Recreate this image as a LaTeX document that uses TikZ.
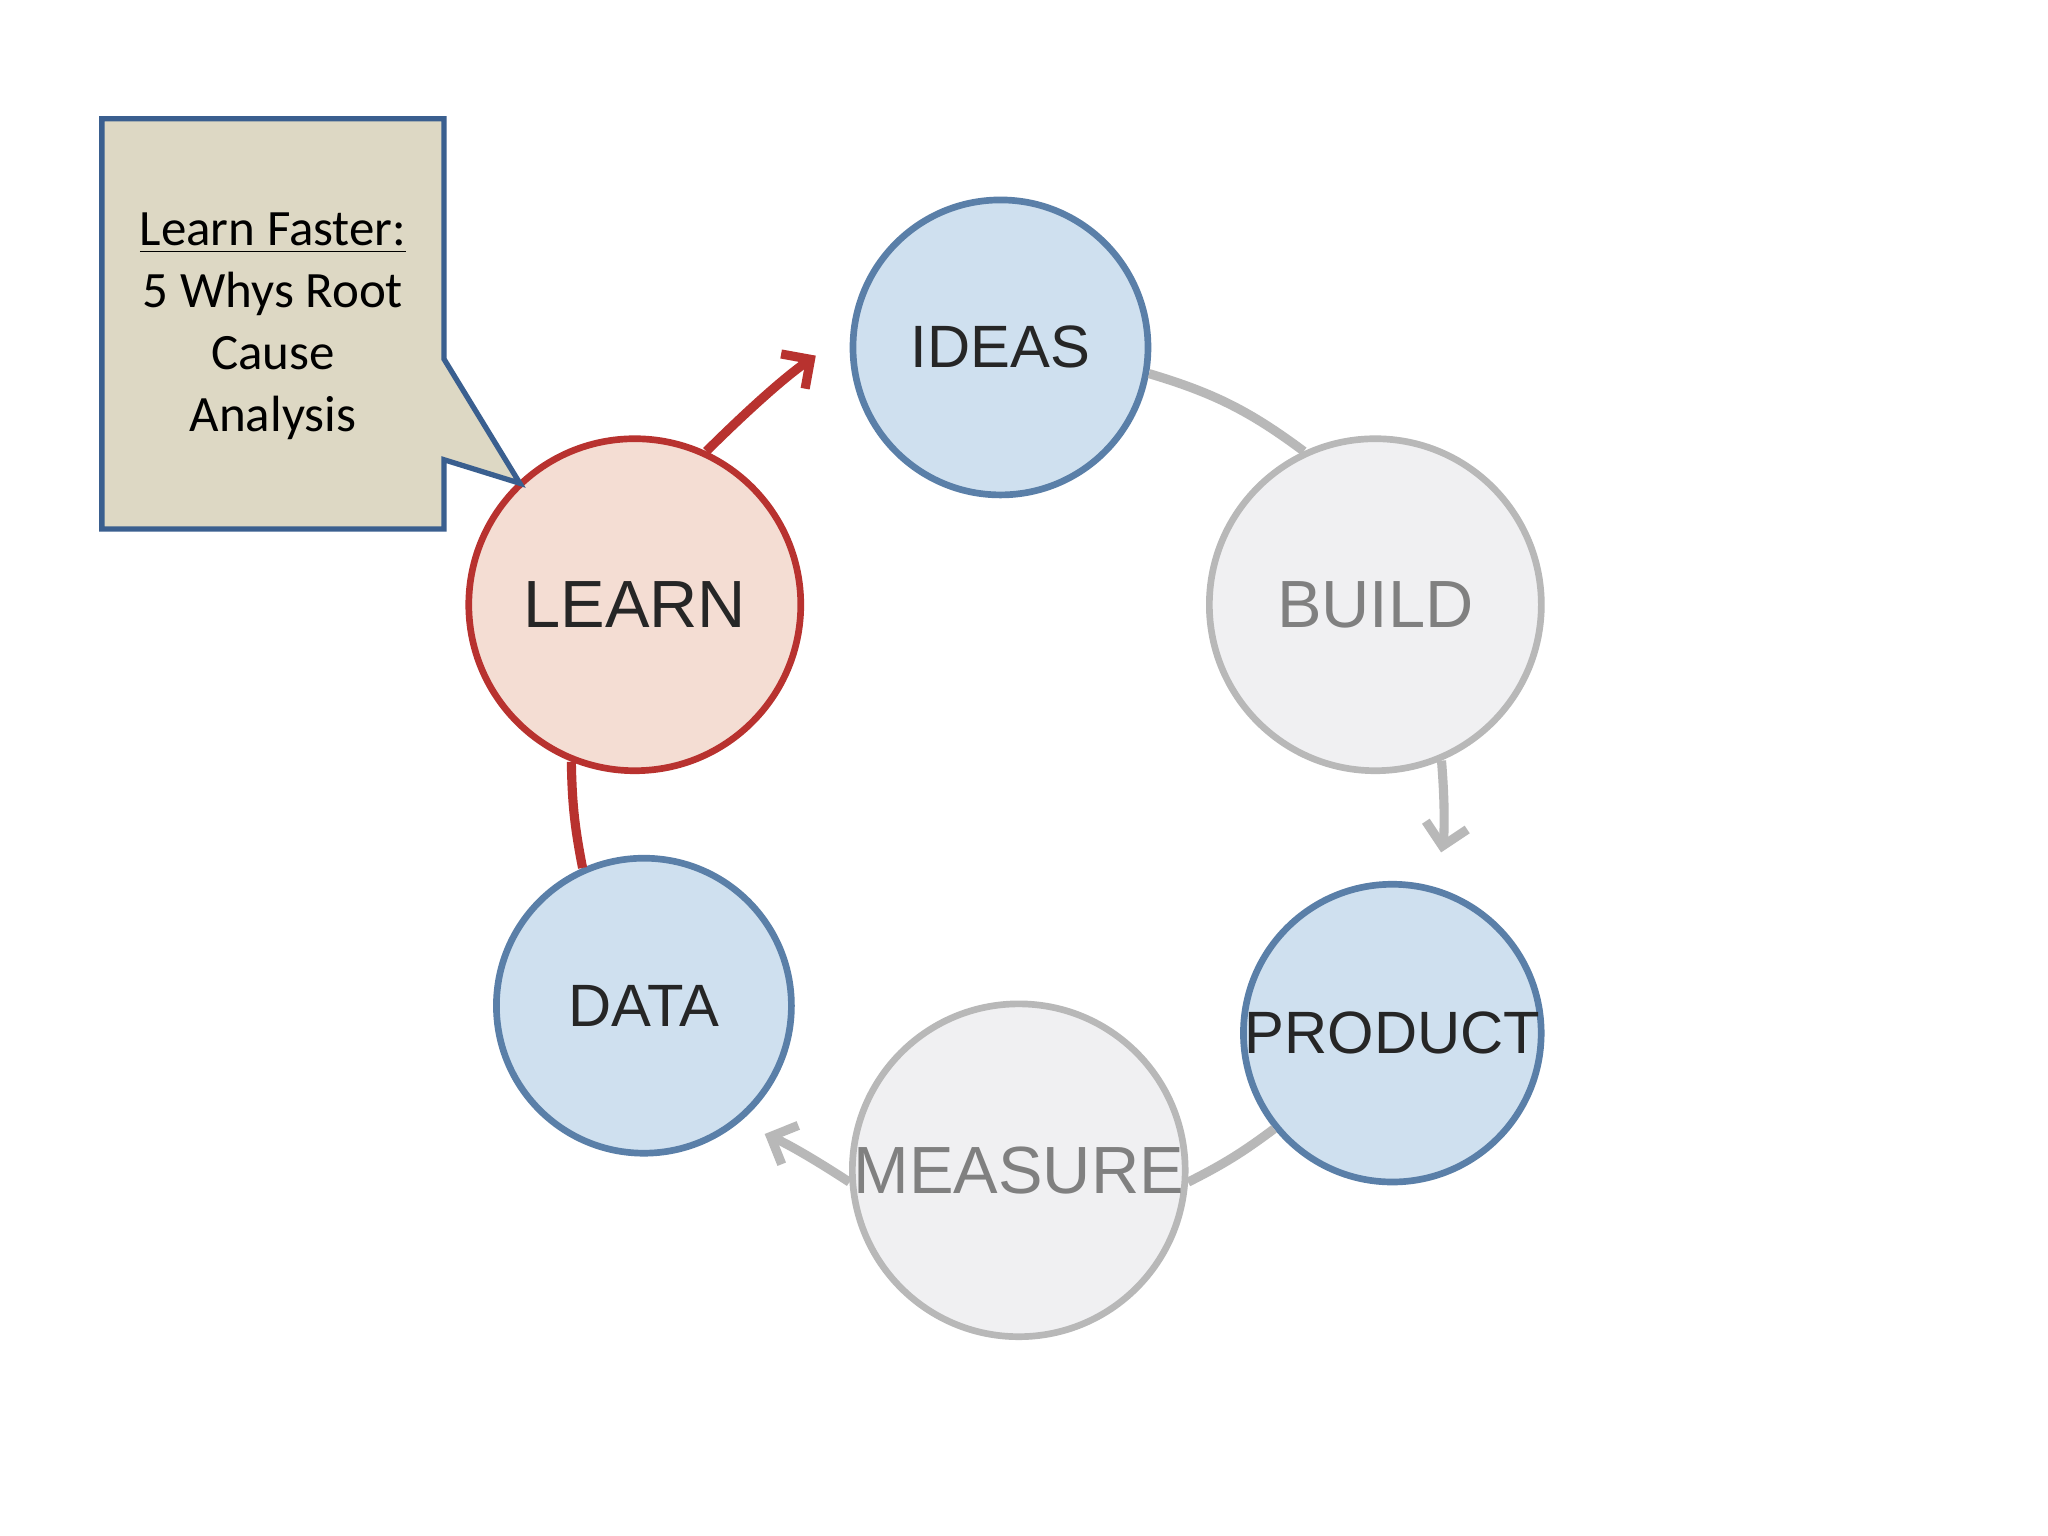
\documentclass[tikz,border=0pt]{standalone}
\usepackage{fontspec}
\setmainfont{Liberation Sans}
\newfontfamily\calib{Carlito}
\usetikzlibrary{arrows.meta}
\definecolor{bluefill}{HTML}{CFE0EF}
\definecolor{blueline}{HTML}{5A7FA8}
\definecolor{grayfill}{HTML}{F0F0F2}
\definecolor{grayline}{HTML}{B8B8B8}
\definecolor{redfill}{HTML}{F4DDD3}
\definecolor{redline}{HTML}{B8322F}
\definecolor{notefill}{HTML}{DDD8C4}
\definecolor{noteline}{HTML}{3A5F8F}
\tikzset{
  stage/.style={circle,inner sep=0pt,line width=1.9pt},
  blue/.style={stage,fill=bluefill,draw=blueline,minimum size=2.95cm,font=\fontsize{17}{20}\selectfont,text=black!85},
  grey/.style={stage,fill=grayfill,draw=grayline,minimum size=3.32cm,font=\fontsize{19}{22}\selectfont,text=black!50},
  red/.style={stage,fill=redfill,draw=redline,minimum size=3.32cm,font=\fontsize{19}{22}\selectfont,text=black!85},
  gcon/.style={draw=grayline,line width=2.6pt},
  rcon/.style={draw=redline,line width=2.6pt},
  tip/.style={-{Straight Barb[length=6pt,width=12pt]}}
}
\begin{document}
\begin{tikzpicture}[x=0.01306cm,y=-0.01306cm]
\useasboundingbox (0,0) rectangle (1568,1176);
\fill[white] (0,0) rectangle (1568,1176);
\node[blue] (ideas) at (766,266) {IDEAS};
\node[grey] (build) at (1053,463) {BUILD};
\node[blue] (product) at (1066,791) {PRODUCT};
\node[grey] (measure) at (780,896) {MEASURE};
\node[blue] (data) at (493,770) {DATA};
\node[red] (learn) at (486,463) {LEARN};
\draw[gcon] (ideas.-10) to[bend left=10] (build.115);
\draw[gcon,tip,shorten >=10pt] (build.-67) to[bend left=8] (product.74);
\draw[gcon] (product.219) to[bend left=5] (measure.-4);
\draw[gcon,tip,shorten >=8pt] (measure.184) to[bend right=5] (data.-51);
\draw[rcon] (data.114) to[bend left=5] (learn.248);
\draw[rcon,tip,shorten >=12pt] (learn.65) to[bend left=5] (ideas.174);
\draw[fill=notefill,draw=noteline,line width=1.5pt]
  (78,91) -- (340,91) -- (340,275) -- (398,370) -- (340,352) -- (340,405) -- (78,405) -- cycle;
\node[align=center,font=\calib\fontsize{14.5}{17.6}\selectfont,text=black] (note) at (209,250)
  {\underline{Learn Faster:}\\5 Whys Root\\Cause\\Analysis};
\end{tikzpicture}
\end{document}
